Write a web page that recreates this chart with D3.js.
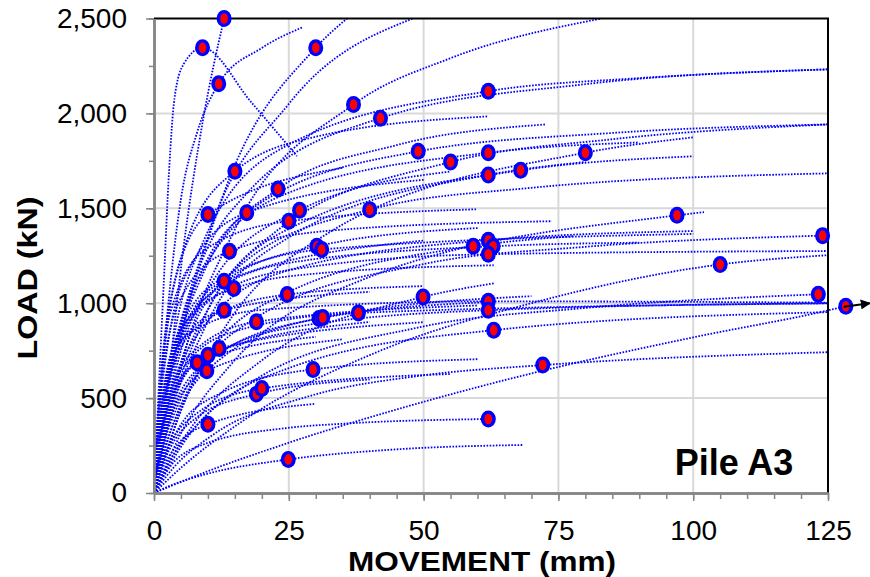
<!DOCTYPE html>
<html>
<head>
<meta charset="utf-8">
<script src="https://cdn.jsdelivr.net/npm/d3@7"></script>
<style>
  body { margin: 0; background: #fff; }
  svg { display: block; }
  text { font-family: "Liberation Sans", Arial, sans-serif; }
</style>
</head>
<body>
<svg id="chart" width="870" height="577"></svg>
<script>
// Axis ticks
const xTicks = [0, 25, 50, 75, 100, 125];
const yTicks = [0, 500, 1000, 1500, 2000, 2500];
const xMinorTicks = d3.range(0, 126, 5);
const yMinorTicks = d3.range(0, 2501, 250);

// Load-movement curves, one per test: [movement (mm), load (kN)]
const loadCurves = [
  [[0,0],[1,230],[2.5,560],[5.5,1300],[9,1950],[13,2500]],
  [[0,0],[0.8,500],[1.8,1100],[2.8,1700],[3.8,2080],[5.5,2260],[9,2346],[18,2060],[26.5,1775]],
  [[0,0],[1,450],[2.5,950],[5,1550],[8,1900],[12,2156],[20,2345],[27.5,2453]],
  [[0,0],[1.5,289],[4.5,751],[12,1502],[30,2346],[35.8,2500]],
  [[0,0],[1.85,286],[5.5,721],[14.8,1377],[37,2047],[55,2291],[83,2500]],
  [[0,0],[2.1,459],[6.3,995],[16.8,1566],[42,1975],[80,2154],[125,2232]],
  [[0,0],[3.1,715],[9.3,1335],[24.8,1833],[62,2117],[90,2186],[125,2232]],
  [[0,0],[0.75,370],[2.25,821],[6,1324],[15,1695],[30,1877],[61.8,1984]],
  [[0,0],[1.15,276],[3.45,658],[9.2,1162],[23,1602],[45,1833],[72.7,1942]],
  [[0,0],[0.5,306],[1.5,688],[4,1129],[10,1467],[35,1713]],
  [[0,0],[0.85,370],[2.55,781],[6.8,1197],[17.2,1477],[50,1650]],
  [[0,0],[1.25,603],[3.75,1016],[10,1292],[25,1432],[60,1495]],
  [[0,0],[1.35,278],[4.05,647],[10.8,1111],[27,1490],[55,1694]],
  [[0,0],[2,362],[6,775],[16,1199],[40,1493],[70,1608],[125,1684]],
  [[0,0],[2.45,547],[7.35,1070],[19.6,1525],[49,1800],[85,1897],[125,1942]],
  [[0,0],[2.75,387],[8.25,852],[22,1364],[55,1744],[85,1864],[125,1942]],
  [[0,0],[3.1,658],[9.3,1185],[24.8,1580],[62,1793],[90,1847]],
  [[0,0],[3.1,403],[9.3,863],[24.8,1343],[62,1676],[80,1744]],
  [[0,0],[3.4,489],[10.2,978],[27.2,1422],[68,1700],[100,1774]],
  [[0,0],[4,359],[12,818],[32,1364],[80,1793],[100,1874]],
  [[0,0],[4.85,305],[14.55,686],[38.8,1125],[97,1463],[102,1480]],
  [[0,0],[6.2,519],[18.6,917],[49.6,1204],[80,1297],[124,1356]],
  [[0,0],[0.7,355],[2.1,718],[5.6,1058],[14,1274],[35,1388],[73.8,1432]],
  [[0,0],[1.5,375],[4.5,750],[12,1091],[30.2,1300],[60,1396]],
  [[0,0],[1.55,469],[4.65,844],[12.4,1126],[31.1,1283],[100,1365]],
  [[0,0],[2.95,312],[8.85,668],[23.6,1040],[59.2,1300],[77.7,1353]],
  [[0,0],[3.1,489],[9.3,879],[24.8,1172],[62,1332],[100,1380]],
  [[0,0],[3.15,683],[9.45,1024],[25.2,1213],[62.9,1300],[90,1319]],
  [[0,0],[3.1,660],[9.3,991],[24.8,1174],[62,1258],[125,1275]],
  [[0,0],[5.25,139],[15.75,366],[42,750],[70,1000],[105,1204],[125,1253]],
  [[0,0],[0.65,219],[1.95,502],[5.2,843],[13,1116],[50,1330]],
  [[0,0],[0.74,310],[2.2,620],[5.9,902],[14.8,1077],[30,1156],[63,1200]],
  [[0,0],[0.65,277],[1.95,554],[5.2,805],[13,963],[40,1060]],
  [[0,0],[1.25,382],[3.75,688],[10,917],[24.7,1046],[50,1090]],
  [[0,0],[2.5,147],[7.5,368],[20,699],[49.9,1033],[63.2,1105]],
  [[0,0],[2,560],[6,830],[20,965],[62,1010],[125,1003]],
  [[0,0],[3.1,403],[9.3,681],[24.8,868],[62,963],[125,1000]],
  [[0,0],[6.15,291],[18.45,591],[49.2,873],[80,975],[123.2,1047]],
  [[0,0],[10,115],[25,265],[45,440],[70,630],[100,820],[125,962],[128.3,984]],
  [[0,0],[0.95,259],[2.85,518],[7.6,752],[19,902],[60,988]],
  [[0,0],[1.53,221],[4.6,473],[12.2,737],[30.6,919],[62,1006]],
  [[0,0],[1.55,192],[4.65,432],[12.4,708],[31.3,925],[70,1037]],
  [[0,0],[1.9,393],[5.6,667],[15,852],[37.9,949],[125,999]],
  [[0,0],[3.15,178],[9.45,402],[25.2,660],[63,858],[125,953]],
  [[0,0],[0.4,127],[1.2,296],[3.2,508],[8,686],[30,823]],
  [[0,0],[0.5,122],[1.5,294],[4,523],[10,726],[40,901]],
  [[0,0],[0.6,159],[1.8,358],[4.8,587],[12.1,761],[50,900]],
  [[0,0],[0.48,100],[1.44,245],[3.84,449],[9.8,644],[35,810]],
  [[0,0],[1.5,155],[4.4,333],[11.8,518],[29.5,651],[60,705]],
  [[0,0],[0.95,98],[2.85,228],[7.6,391],[19,521],[40,598]],
  [[0,0],[1,114],[3,256],[8,421],[20,551],[55,627]],
  [[0,0],[3.6,133],[10.8,304],[28.8,510],[50,620],[72.1,674],[125,742]],
  [[0,0],[0.5,49],[1.5,126],[4,242],[10,362],[30,470]],
  [[0,0],[3.1,143],[9.3,257],[24.8,343],[35,365],[62,390]],
  [[0,0],[1.25,17],[3.75,47],[10,102],[24.9,177],[45,230],[68.3,253]],
  [[0,0],[3,600],[10,1350],[25,2050],[48,2500]]
];

// Position of the failure load within each curve (-1: none marked)
const failureIndex = [
  5,6,5,4,4,4,4,4,4,4, 4,4,4,4,4,4,4,4,4,4,
  4,5,4,4,4,4,4,4,4,5, 4,4,4,4,4,4,4,5,7,4,
  4,4,4,4,4,4,4,4,4,4, 4,5,4,5,4,-1
];

const svg = d3.select("#chart");
const x = d3.scaleLinear().domain([0, 125]).range([154, 828]);
const y = d3.scaleLinear().domain([0, 2500]).range([493, 18.5]);

const gridColor = "#d9d9d9";
const axisColor = "#868686";

// Gridlines
svg.append("g").selectAll("line.vg")
  .data(xTicks.filter(d => d > 0 && d < 125))
  .join("line")
  .attr("x1", d => x(d)).attr("x2", d => x(d))
  .attr("y1", y(0)).attr("y2", y(2500))
  .attr("stroke", gridColor).attr("stroke-width", 2);
svg.append("g").selectAll("line.hg")
  .data(yTicks.filter(d => d > 0 && d < 2500))
  .join("line")
  .attr("x1", x(0)).attr("x2", x(125))
  .attr("y1", d => y(d)).attr("y2", d => y(d))
  .attr("stroke", gridColor).attr("stroke-width", 2);

// Curves
const line = d3.line()
  .x(d => x(d[0])).y(d => y(d[1]))
  .curve(d3.curveMonotoneX);

svg.append("g")
  .selectAll("path")
  .data(loadCurves)
  .join("path")
  .attr("d", line)
  .attr("fill", "none")
  .attr("stroke", "#0000ff")
  .attr("stroke-width", 1.8)
  .attr("stroke-dasharray", "1.6,1.5");

// Plot frame: top and right borders
svg.append("line")
  .attr("x1", x(0)).attr("x2", x(125) + 1)
  .attr("y1", y(2500)).attr("y2", y(2500))
  .attr("stroke", "#000").attr("stroke-width", 2);
svg.append("line")
  .attr("x1", x(125)).attr("x2", x(125))
  .attr("y1", y(2500)).attr("y2", y(0))
  .attr("stroke", "#000").attr("stroke-width", 2);

// Minor ticks
const yMinor = svg.append("g")
  .attr("transform", `translate(${x(0)},0)`)
  .call(d3.axisLeft(y).tickValues(yMinorTicks).tickSize(5).tickSizeOuter(0).tickFormat(""));
const xMinor = svg.append("g")
  .attr("transform", `translate(0,${y(0)})`)
  .call(d3.axisBottom(x).tickValues(xMinorTicks).tickSize(6).tickSizeOuter(0).tickFormat(""));

// Major axes
const yAxis = svg.append("g")
  .attr("transform", `translate(${x(0)},0)`)
  .call(d3.axisLeft(y).tickValues(yTicks).tickSize(8).tickSizeOuter(0)
        .tickPadding(19).tickFormat(d3.format(",")));
const xAxis = svg.append("g")
  .attr("transform", `translate(0,${y(0)})`)
  .call(d3.axisBottom(x).tickValues(xTicks).tickSize(8).tickSizeOuter(0)
        .tickPadding(19).tickFormat(d3.format("d")));

[yMinor, xMinor, yAxis, xAxis].forEach(g => {
  g.select(".domain").attr("stroke", axisColor).attr("stroke-width", 2.5);
  g.selectAll(".tick line").attr("stroke", axisColor).attr("stroke-width", 1.5);
  g.selectAll(".tick text")
    .attr("fill", "#000")
    .style("font-size", "28px")
    .style("font-family", '"Liberation Sans", Arial, sans-serif');
});

// Failure load markers
const failures = loadCurves
  .map((c, i) => failureIndex[i] >= 0 ? c[failureIndex[i]] : null)
  .filter(d => d);

const mk = svg.append("g").selectAll("g")
  .data(failures)
  .join("g")
  .attr("transform", d => `translate(${x(d[0])},${y(d[1])})`);
mk.append("ellipse").attr("rx", 7.5).attr("ry", 8.5).attr("fill", "#0000ff");
mk.append("ellipse").attr("rx", 3.8).attr("ry", 5.3).attr("fill", "#ff0000");

// Arrow off the right edge for the test beyond the axis range
const beyond = failures.reduce((a, b) => (b[0] > a[0] ? b : a));
svg.append("defs").append("marker")
  .attr("id", "arrowhead")
  .attr("viewBox", "0 0 10 10")
  .attr("refX", 9).attr("refY", 5)
  .attr("markerWidth", 5).attr("markerHeight", 5)
  .attr("orient", "auto")
  .append("path").attr("d", "M0,0 L10,5 L0,10 Z").attr("fill", "#000");
svg.append("line")
  .attr("x1", x(beyond[0]) - 2).attr("y1", y(beyond[1]) + 0.5)
  .attr("x2", x(beyond[0]) + 24).attr("y2", y(beyond[1]) - 3)
  .attr("stroke", "#000").attr("stroke-width", 2)
  .attr("marker-end", "url(#arrowhead)");

// Titles
svg.append("text")
  .attr("x", 482).attr("y", 571)
  .attr("text-anchor", "middle")
  .attr("textLength", 268).attr("lengthAdjust", "spacingAndGlyphs")
  .style("font-size", "27px").style("font-weight", "bold")
  .text("MOVEMENT (mm)");

svg.append("text")
  .attr("transform", "translate(37,278) rotate(-90)")
  .attr("text-anchor", "middle")
  .attr("textLength", 163).attr("lengthAdjust", "spacingAndGlyphs")
  .style("font-size", "28px").style("font-weight", "bold")
  .text("LOAD  (kN)");

svg.append("text")
  .attr("x", 734).attr("y", 475)
  .attr("text-anchor", "middle")
  .style("font-size", "36px").style("font-weight", "bold")
  .text("Pile A3");
</script>
</body>
</html>
